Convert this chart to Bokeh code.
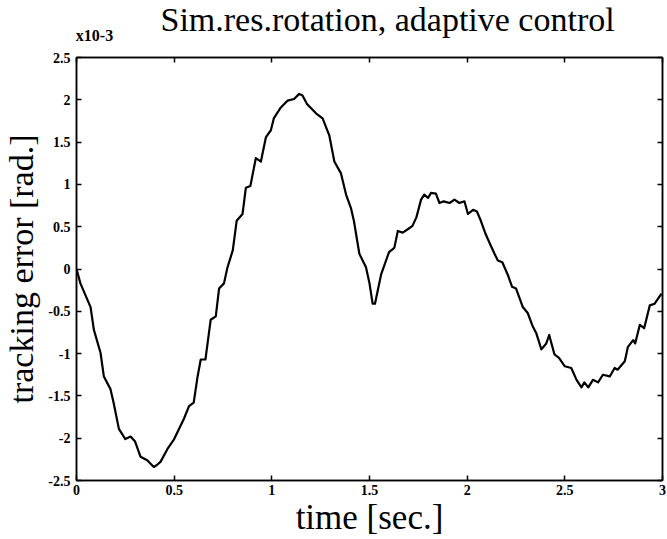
from bokeh.plotting import figure
from bokeh.models import LinearAxis, Range1d, FixedTicker
from bokeh.embed import file_html
from bokeh.resources import INLINE

# time [sec.]
time_s = [0, 0.02, 0.072, 0.089, 0.123, 0.14, 0.174, 0.19, 0.217, 0.25, 0.277, 0.30, 0.328, 0.362,
          0.396, 0.41, 0.43, 0.465, 0.50, 0.55, 0.576, 0.60, 0.62, 0.636, 0.66, 0.687, 0.713, 0.73,
          0.755, 0.773, 0.80, 0.82, 0.85, 0.867, 0.89, 0.918, 0.944, 0.97, 0.995, 1.01, 1.046, 1.08,
          1.114, 1.14, 1.157, 1.18, 1.226, 1.26, 1.294, 1.32, 1.354, 1.38, 1.405, 1.42, 1.448, 1.482,
          1.50, 1.516, 1.528, 1.56, 1.60, 1.627, 1.645, 1.67, 1.696, 1.72, 1.74, 1.764, 1.78, 1.80,
          1.815, 1.84, 1.858, 1.88, 1.91, 1.935, 1.96, 1.986, 2.004, 2.03, 2.05, 2.07, 2.095, 2.12,
          2.14, 2.157, 2.18, 2.21, 2.23, 2.25, 2.285, 2.31, 2.336, 2.354, 2.38, 2.405, 2.42, 2.447,
          2.47, 2.50, 2.533, 2.56, 2.585, 2.60, 2.62, 2.644, 2.67, 2.695, 2.73, 2.755, 2.77, 2.807,
          2.823, 2.85, 2.86, 2.884, 2.906, 2.935, 2.96, 2.995]

# tracking error [rad.] x 10^-3
error_e3 = [0, -0.17, -0.45, -0.72, -0.99, -1.27, -1.42, -1.58, -1.89, -2.01, -1.98, -2.04, -2.22, -2.26,
            -2.34, -2.32, -2.28, -2.13, -2.01, -1.77, -1.62, -1.58, -1.27, -1.07, -1.07, -0.60, -0.56, -0.23,
            -0.17, 0.02, 0.22, 0.57, 0.65, 0.96, 0.98, 1.31, 1.27, 1.56, 1.64, 1.78, 1.91, 1.99,
            2.01, 2.07, 2.05, 1.95, 1.84, 1.78, 1.58, 1.27, 1.13, 0.88, 0.72, 0.57, 0.18, 0.02,
            -0.17, -0.41, -0.41, -0.06, 0.20, 0.25, 0.45, 0.43, 0.47, 0.51, 0.61, 0.82, 0.88, 0.84,
            0.90, 0.89, 0.78, 0.80, 0.78, 0.82, 0.78, 0.80, 0.65, 0.70, 0.68, 0.57, 0.41, 0.28,
            0.18, 0.10, 0.08, -0.08, -0.21, -0.23, -0.45, -0.52, -0.68, -0.76, -0.95, -0.88, -0.78, -1.01,
            -1.05, -1.15, -1.17, -1.31, -1.40, -1.34, -1.40, -1.31, -1.34, -1.25, -1.27, -1.17, -1.19, -1.09,
            -0.92, -0.84, -0.88, -0.66, -0.70, -0.43, -0.41, -0.29]

x_ticks = [0, 0.5, 1, 1.5, 2, 2.5, 3]
y_ticks = [-2.5, -2, -1.5, -1, -0.5, 0, 0.5, 1, 1.5, 2, 2.5]
exponent_text = "x10-3"
exponent_pos = 0.092

SERIF = "Liberation Serif"

p = figure(width=667, height=539, output_backend="svg", toolbar_location=None,
           x_range=Range1d(0, 3), y_range=Range1d(-2.5, 2.5),
           min_border_left=76, min_border_right=5, min_border_top=57, min_border_bottom=57,
           background_fill_color="white", border_fill_color="white")

p.grid.visible = False
p.outline_line_color = "black"
p.outline_line_width = 1.5

p.line(time_s, error_e3, line_color="black", line_width=2.2, line_join="round")

# title
p.title.text = "Sim.res.rotation, adaptive control"
p.title.text_font = SERIF
p.title.text_font_size = "34px"
p.title.text_font_style = "normal"
p.title.text_color = "black"
p.title.align = "left"
p.title.offset = 84
p.title.standoff = -28


def style_axis(ax, ticks):
    ax.ticker = FixedTicker(ticks=ticks)
    ax.major_tick_in = 5
    ax.major_tick_out = 0
    ax.minor_tick_line_color = None
    ax.axis_line_color = "black"
    ax.axis_line_width = 1.5
    ax.major_tick_line_width = 1.5
    ax.major_tick_line_color = "black"
    ax.major_label_text_font = SERIF
    ax.major_label_text_font_size = "14px"
    ax.major_label_text_font_style = "bold"
    ax.major_label_text_color = "black"
    ax.major_label_standoff = 5


xa = p.below[0]
ya = p.left[0]
style_axis(xa, x_ticks)
style_axis(ya, y_ticks)
xa.major_label_standoff = 4
ya.major_label_standoff = 6
xa.major_label_overrides = {v: ("%g" % v) for v in x_ticks}
ya.major_label_overrides = {v: ("%g" % v) for v in y_ticks}

xa.axis_label = "time [sec.]"
xa.axis_label_text_font = SERIF
xa.axis_label_text_font_size = "35px"
xa.axis_label_text_font_style = "normal"
xa.axis_label_text_color = "black"
xa.axis_label_standoff = 0

ya.axis_label = "tracking error [rad.]"
ya.axis_label_text_font = SERIF
ya.axis_label_text_font_size = "34px"
ya.axis_label_text_font_style = "normal"
ya.axis_label_text_color = "black"
ya.axis_label_standoff = 5


def mirror_axis(ax):
    ax.axis_line_color = "black"
    ax.axis_line_width = 1.5
    ax.major_tick_line_color = None
    ax.major_tick_in = 0
    ax.major_tick_out = 0
    ax.minor_tick_in = 5
    ax.minor_tick_out = 0
    ax.minor_tick_line_color = "black"
    ax.minor_tick_line_width = 1.5


# top edge: mirrored ticks + exponent marker label
top_ax = LinearAxis(ticker=FixedTicker(ticks=[exponent_pos], minor_ticks=x_ticks))
mirror_axis(top_ax)
top_ax.major_label_overrides = {exponent_pos: exponent_text}
top_ax.major_label_text_font = SERIF
top_ax.major_label_text_font_size = "16px"
top_ax.major_label_text_font_style = "bold"
top_ax.major_label_text_color = "black"
top_ax.major_label_standoff = 14

# right edge: mirrored ticks only
right_ax = LinearAxis(ticker=FixedTicker(ticks=[], minor_ticks=y_ticks))
mirror_axis(right_ax)
right_ax.major_label_standoff = 0

p.add_layout(top_ax, "above")
p.add_layout(right_ax, "right")

open("out.html", "w").write(file_html(p, INLINE))
